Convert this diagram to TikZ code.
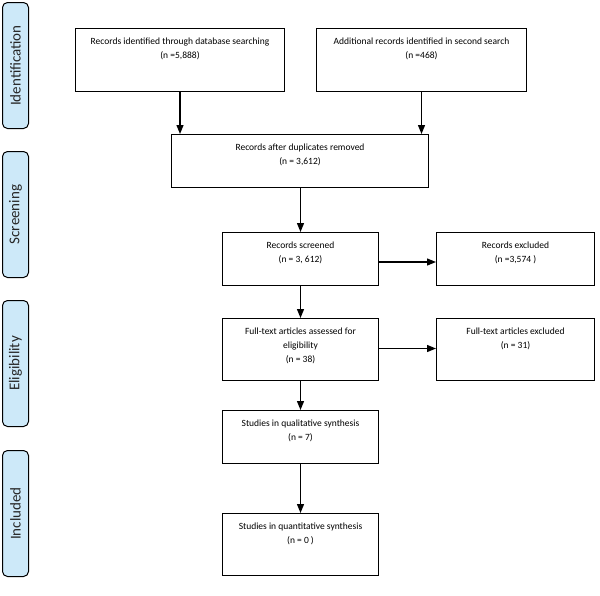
\documentclass[tikz,border=0pt]{standalone}
\usepackage{fontspec}
\setmainfont{Carlito}
\usetikzlibrary{arrows.meta}
\definecolor{side}{HTML}{CDE9F9}
\newcommand{\bx}[3]{\parbox[t][#2pt][t]{#1pt}{\centering\vspace{9pt}#3}}
\begin{document}
\begin{tikzpicture}[x=1pt,y=-1pt,
 box/.style={draw,line width=1pt,inner sep=0pt,anchor=north west,font=\fontsize{9.5}{14}\selectfont},
 stage/.style={draw,line width=1pt,fill=side,rounded corners=5pt,minimum width=26pt,inner sep=0pt,anchor=north west,font=\fontsize{15}{17}\selectfont,text=black!85},
 arr/.style={-{Triangle[length=9pt,width=7pt]},line width=1.2pt}]
\useasboundingbox (0,0) rectangle (600,595);
\node[stage,minimum height=126pt] (s1) at (2,2) {\rotatebox{90}{Identification}};
\node[stage,minimum height=126pt] (s2) at (2,151) {\rotatebox{90}{Screening}};
\node[stage,minimum height=126pt] (s3) at (2,300) {\rotatebox{90}{Eligibility}};
\node[stage,minimum height=126pt] (s4) at (2,450) {\rotatebox{90}{Included}};
\node[box] (a) at (75,28) {\bx{209}{63}{Records identified through database searching\\(n =5,888)}};
\node[box] (b) at (316,28) {\bx{210}{63}{Additional records identified in second search\\(n =468)}};
\node[box] (c) at (171,134) {\bx{257}{53}{Records after duplicates removed\\(n = 3,612)}};
\node[box] (d) at (222,232) {\bx{156}{53}{Records screened\\(n = 3, 612)}};
\node[box] (e) at (436,232) {\bx{158}{53}{Records excluded\\(n =3,574 )}};
\node[box] (f) at (222,318) {\bx{156}{62}{Full-text articles assessed for\\eligibility\\(n = 38)}};
\node[box] (g) at (436,318) {\bx{158}{62}{Full-text articles excluded\\(n = 31)}};
\node[box] (h) at (222,410) {\bx{156}{53}{Studies in qualitative synthesis\\(n = 7)}};
\node[box] (i) at (222,513) {\bx{156}{62}{Studies in quantitative synthesis\\(n = 0 )}};
\draw[arr] (a.south) -- (a.south|-c.north);
\draw[arr] (b.south) -- (b.south|-c.north);
\draw[arr] (c.south-|d.north) -- (d.north);
\draw[arr] (d.east) ++(0,3) coordinate (d1) -- (d1-|e.west);
\draw[arr] (d.south) -- (f.north);
\draw[arr] (f.east) ++(0,-1) coordinate (f1) -- (f1-|g.west);
\draw[arr] (f.south) -- (h.north);
\draw[arr] (h.south) -- (i.north);
\end{tikzpicture}
\end{document}
